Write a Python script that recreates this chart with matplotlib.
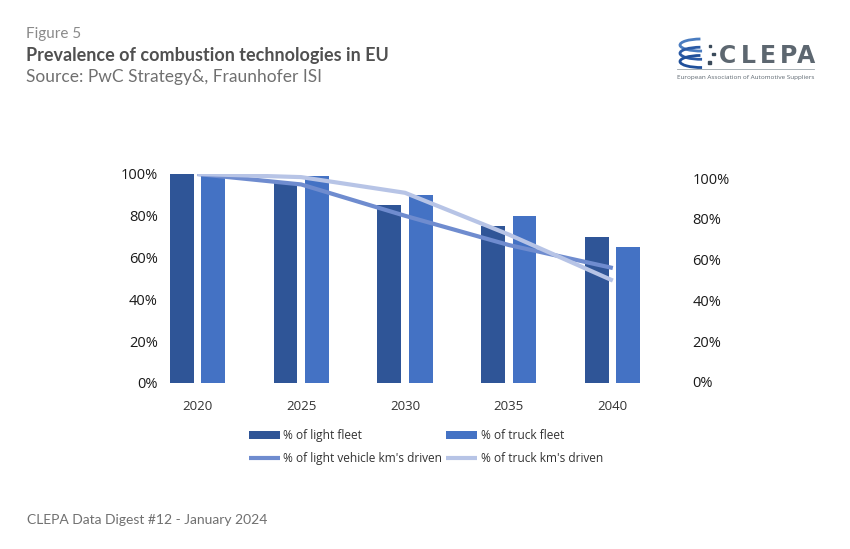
import matplotlib.pyplot as plt
import numpy as np
from matplotlib.patches import Arc, Rectangle
from matplotlib.lines import Line2D

plt.rcParams['font.family'] = ['Open Sans', 'DejaVu Sans']

years = ['2020', '2025', '2030', '2035', '2040']
light_fleet = [100, 96, 85, 75, 70]
truck_fleet = [99, 99, 90, 80, 65]
light_km = [100, 95, 80, 66, 55]
truck_km = [100, 98.5, 91, 71, 49]
yticks = [0, 20, 40, 60, 80, 100]

c_light = '#2f5597'
c_truck = '#4472c4'
c_light_km = '#6f8ccf'
c_truck_km = '#b7c4e6'

fig = plt.figure(figsize=(8.5, 5.49), dpi=100)
fig.patch.set_facecolor('white')

# axes: left edge ~166px, right ~644px, 0% at y=383, 100% at y=174
ax = fig.add_axes([166 / 850, 0.3024, 478 / 850, 0.3807])
x = np.arange(len(years))
w = 0.23
b1 = ax.bar(x - 0.15, light_fleet, w, color=c_light, label='% of light fleet')
b2 = ax.bar(x + 0.15, truck_fleet, w, color=c_truck, label='% of truck fleet')
l1, = ax.plot(x, light_km, color=c_light_km, lw=3, solid_capstyle='butt',
              label="% of light vehicle km's driven")
l2, = ax.plot(x, truck_km, color=c_truck_km, lw=3, solid_capstyle='butt',
              label="% of truck km's driven")

ax.set_xlim(-0.3, 4.3)
ax.set_ylim(0, 100)
ax.set_xticks(x)
ax.set_xticklabels(years, fontsize=9.5, color='#333333')
ax.set_yticks(yticks)
ax.set_yticklabels([f'{v}%' for v in yticks], fontsize=10.5, color='#1a1a1a')
ax.tick_params(length=0, axis='y', pad=6)
ax.tick_params(length=0, axis='x', pad=12)
for s in ax.spines.values():
    s.set_visible(False)

ax2 = ax.twinx()
ax2.set_ylim(-0.5, 102)
ax2.set_yticks(yticks)
ax2.set_yticklabels([f'{v}%' for v in yticks], fontsize=10.5, color='#1a1a1a')
ax2.tick_params(length=0, pad=35)
for s in ax2.spines.values():
    s.set_visible(False)

leg = fig.legend([b1, l1, b2, l2],
                 [b1.get_label(), l1.get_label(), b2.get_label(), l2.get_label()],
                 ncol=2, loc='upper left', bbox_to_anchor=(0.28, 0.238), frameon=False,
                 fontsize=8.6, handlelength=2.6, handletextpad=0.3,
                 columnspacing=0.3, labelspacing=0.85)
for t in leg.get_texts():
    t.set_color('#333333')

# header
fig.text(0.03, 0.93, 'Figure 5', fontsize=11, color='#8a8a8a', family='Lato')
fig.text(0.03, 0.888, 'Prevalence of combustion technologies in EU', fontsize=13,
         color='#505050', fontweight='bold', family='Lato')
fig.text(0.03, 0.85, 'Source: PwC Strategy&, Fraunhofer ISI', fontsize=12.5,
         color='#707070', family='Lato')
fig.text(0.032, 0.045, 'CLEPA Data Digest #12 - January 2024', fontsize=10,
         color='#707070', family='Lato')

# logo
for ch, cx in zip('CLEPA', [728, 748, 768, 789, 806]):
    fig.text(cx / 850, 0.885, ch, fontsize=17, fontweight='bold', color='#5d6770',
             family='DejaVu Sans', ha='center')
fig.text(0.797, 0.856, 'European Association of Automotive Suppliers', fontsize=4.6,
         color='#5d6770', ha='left')
fig.add_artist(Line2D([0.797, 0.958], [0.874, 0.874], color='#9aa3aa', lw=0.6))
for yy, cc in [(0.918, '#4a7cc0'), (0.903, '#2a5aa5'), (0.888, '#1f4f9a')]:
    fig.add_artist(Arc((0.825, yy), 0.05, 0.022, theta1=95, theta2=275, color=cc,
                       lw=2.0, transform=fig.transFigure))
for px, py in [(0.834, 0.914), (0.838, 0.899), (0.833, 0.884)]:
    fig.add_artist(Rectangle((px, py), 0.003, 0.004, color='#3a4a5a',
                             transform=fig.transFigure))

fig.savefig('out.png', dpi=100)
